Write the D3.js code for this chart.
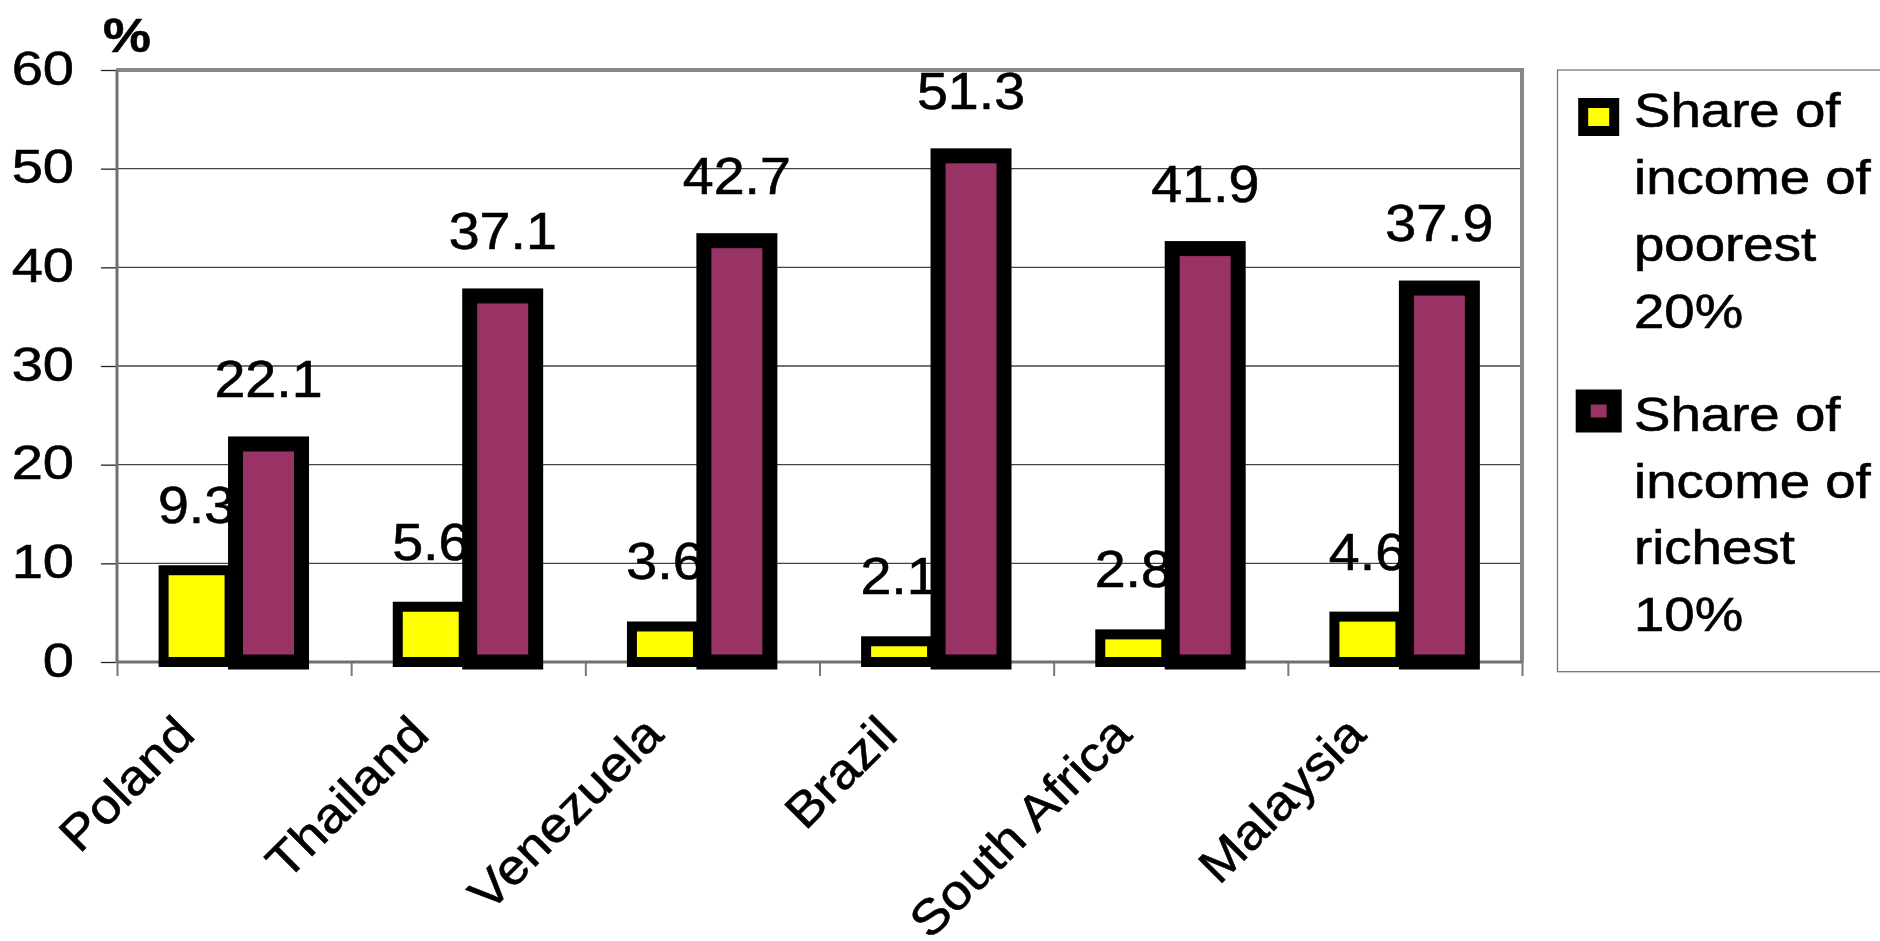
<!DOCTYPE html>
<html>
<head>
<meta charset="utf-8">
<script src="https://cdn.jsdelivr.net/npm/d3@7"></script>
<style>
  html, body { margin: 0; padding: 0; background: #fff; }
  svg { display: block; }
  text { font-family: "Liberation Sans", Arial, sans-serif; fill: #000; stroke: #000; stroke-width: 0.6px; }
</style>
</head>
<body>
<svg id="chart" width="1880" height="941"></svg>
<script>
// Income share by country (%)
const categories = ["Poland", "Thailand", "Venezuela", "Brazil", "South Africa", "Malaysia"];
const poorest20 = [9.3, 5.6, 3.6, 2.1, 2.8, 4.6];
const richest10 = [22.1, 37.1, 42.7, 51.3, 41.9, 37.9];
const yTicks = [0, 10, 20, 30, 40, 50, 60];
const seriesLegend = [
  ["Share of", "income of", "poorest", "20%"],
  ["Share of", "income of", "richest", "10%"]
];
const seriesColors = ["#ffff00", "#993366"];

const series = [poorest20, richest10];
const strokeW = [10, 15];

const svg = d3.select("#chart");
const plot = { left: 117, right: 1522, top: 70, bottom: 662 };

const x0 = d3.scaleBand().domain(categories).range([plot.left, plot.right]).padding(0);
const bw = x0.bandwidth();
const x1 = d3.scaleBand().domain([0, 1]).range([bw * 0.199, bw * 0.788]).paddingInner(0.083);
const y = d3.scaleLinear().domain([0, 60]).range([plot.bottom, plot.top]);
const xEdges = d3.scaleLinear().domain([0, categories.length]).range([plot.left, plot.right]);

// horizontal gridlines
svg.append("g")
  .selectAll("line")
  .data(yTicks.filter(d => d > 0 && d < 60))
  .join("line")
  .attr("x1", plot.left).attr("x2", plot.right)
  .attr("y1", d => y(d)).attr("y2", d => y(d))
  .attr("stroke", "#444").attr("stroke-width", 1.3);

// y axis ticks and labels
const yAxis = svg.append("g")
  .attr("transform", `translate(${plot.left},0)`)
  .call(d3.axisLeft(y).tickValues(yTicks).tickSize(16).tickFormat(d3.format("d")));
yAxis.select(".domain").remove();
yAxis.selectAll(".tick line").attr("stroke", "#222").attr("stroke-width", 1.3);
yAxis.selectAll(".tick text")
  .attr("x", 0).attr("dy", null).attr("y", 0)
  .attr("text-anchor", "end")
  .attr("transform", "translate(-43,14) scale(1.18,1)")
  .style("font-size", "47.5px")
  .style("font-family", "'Liberation Sans', Arial, sans-serif")
  .attr("fill", "#000");

// category boundary ticks below the axis
const xAxis = svg.append("g")
  .attr("transform", `translate(0,${plot.bottom})`)
  .call(d3.axisBottom(xEdges).ticks(categories.length).tickSize(14).tickFormat(""));
xAxis.select(".domain").remove();
xAxis.selectAll(".tick line").attr("stroke", "#777").attr("stroke-width", 2);

// plot frame
const frame = svg.append("g").attr("fill", "none");
frame.append("line").attr("x1", plot.left - 1).attr("x2", plot.right + 2)
  .attr("y1", plot.top).attr("y2", plot.top).attr("stroke", "#888").attr("stroke-width", 4);
frame.append("line").attr("x1", plot.right).attr("x2", plot.right)
  .attr("y1", plot.top - 2).attr("y2", plot.bottom).attr("stroke", "#888").attr("stroke-width", 4);
frame.append("line").attr("x1", plot.left).attr("x2", plot.left)
  .attr("y1", plot.top).attr("y2", plot.bottom + 1).attr("stroke", "#707070").attr("stroke-width", 3);
frame.append("line").attr("x1", plot.left).attr("x2", plot.right)
  .attr("y1", plot.bottom).attr("y2", plot.bottom).attr("stroke", "#707070").attr("stroke-width", 3);

// bars and value labels, one series at a time
series.forEach((vals, si) => {
  const g = svg.append("g");
  g.selectAll("rect")
    .data(vals.map((v, i) => ({ c: categories[i], v })))
    .join("rect")
    .attr("x", d => x0(d.c) + x1(si))
    .attr("width", x1.bandwidth())
    .attr("y", d => y(d.v))
    .attr("height", d => y(0) - y(d.v))
    .attr("fill", seriesColors[si])
    .attr("stroke", "#000")
    .attr("stroke-width", strokeW[si]);
  g.selectAll("text")
    .data(vals.map((v, i) => ({ c: categories[i], v })))
    .join("text")
    .attr("text-anchor", "middle")
    .attr("transform", d => `translate(${x0(d.c) + x1(si) + x1.bandwidth() / 2},${y(d.v) - 47}) scale(1.09,1)`)
    .style("font-size", "51px")
    .text(d => d3.format(".1f")(d.v));
});

// category labels
svg.append("g")
  .selectAll("text")
  .data(categories)
  .join("text")
  .attr("text-anchor", "end")
  .attr("transform", d => `translate(${x0(d) + bw / 2 - 37},737) rotate(-45) scale(1.09,1)`)
  .style("font-size", "49px")
  .text(d => d);

// unit label
svg.append("text")
  .attr("transform", "translate(103,52) scale(1.1,1)")
  .style("font-size", "49px")
  .style("font-weight", "bold")
  .text("%");

// legend
const legend = svg.append("g");
legend.append("rect")
  .attr("x", 1557.5).attr("y", 70).attr("width", 400).attr("height", 601.7)
  .attr("fill", "none").attr("stroke", "#777").attr("stroke-width", 1.3);
const legendTop = [127, 431];
const lineStep = [67, 66.5];
const markerY = [117, 411];
seriesLegend.forEach((lines, si) => {
  legend.append("rect")
    .attr("x", 1598.7 - 15.5).attr("y", markerY[si] - 14)
    .attr("width", 31).attr("height", 28)
    .attr("fill", seriesColors[si]).attr("stroke", "#000").attr("stroke-width", strokeW[si]);
  legend.selectAll(null)
    .data(lines)
    .join("text")
    .attr("transform", (d, i) => `translate(1634,${legendTop[si] + i * lineStep[si]}) scale(1.15,1)`)
    .style("font-size", "47.5px")
    .text(d => d);
});
</script>
</body>
</html>
